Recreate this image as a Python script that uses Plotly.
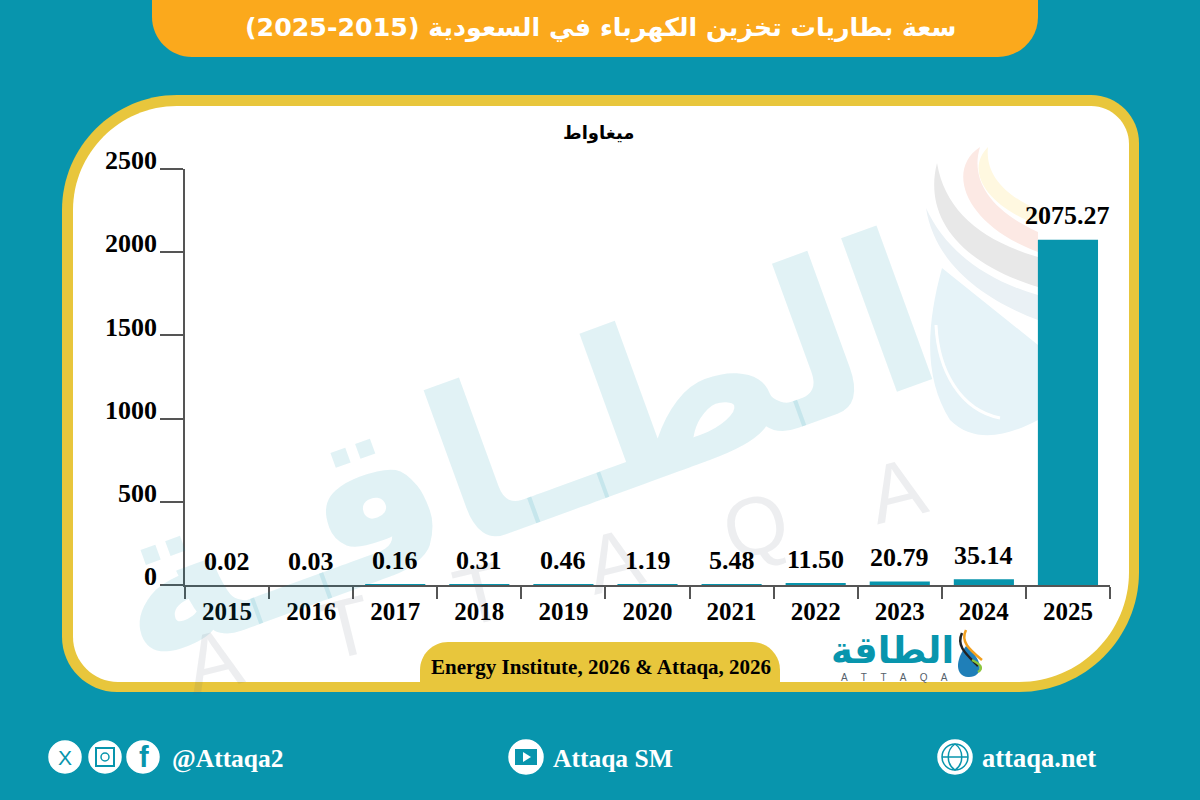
import plotly.graph_objects as go

# data
years = ["2015", "2016", "2017", "2018", "2019", "2020", "2021", "2022", "2023", "2024", "2025"]
capacity_mw = [0.02, 0.03, 0.16, 0.31, 0.46, 1.19, 5.48, 11.50, 20.79, 35.14, 2075.27]
y_ticks = [0, 500, 1000, 1500, 2000, 2500]

title_text = "سعة بطاريات تخزين الكهرباء في السعودية (2015-2025)"
unit_text = "ميغاواط"
source_text = "Energy Institute, 2026 & Attaqa, 2026"
logo_text = "الطاقة"
watermark_text = "الطـاقـة"

TEAL = "#0895AD"
YELLOW = "#E8C63C"
ORANGE = "#FBA91C"
AXIS = "#555555"
SERIF = "Liberation Serif"
ARABIC = "DejaVu Sans"
W, H = 1200, 800


def px(x):
    return x / W


def py(y):
    return 1 - y / H


def rounded(x0, y0, x1, y1, tl, tr, br, bl):
    """Path (in paper coords) of a box with its own radius on each corner."""
    k = 0.45
    pts = [
        f"M{px(x0 + tl)},{py(y0)}", f"L{px(x1 - tr)},{py(y0)}",
        f"C{px(x1 - tr * k)},{py(y0)} {px(x1)},{py(y0 + tr * k)} {px(x1)},{py(y0 + tr)}",
        f"L{px(x1)},{py(y1 - br)}",
        f"C{px(x1)},{py(y1 - br * k)} {px(x1 - br * k)},{py(y1)} {px(x1 - br)},{py(y1)}",
        f"L{px(x0 + bl)},{py(y1)}",
        f"C{px(x0 + bl * k)},{py(y1)} {px(x0)},{py(y1 - bl * k)} {px(x0)},{py(y1 - bl)}",
        f"L{px(x0)},{py(y0 + tl)}",
        f"C{px(x0)},{py(y0 + tl * k)} {px(x0 + tl * k)},{py(y0)} {px(x0 + tl)},{py(y0)}",
        "Z",
    ]
    return " ".join(pts)


def box(x0, y0, x1, y1, tl, tr, br, bl, color):
    return dict(type="path", path=rounded(x0, y0, x1, y1, tl, tr, br, bl), xref="paper", yref="paper",
                fillcolor=color, line_width=0, layer="below")


def circle(cx, cy, r, color="white", line=None):
    return dict(type="circle", xref="paper", yref="paper", x0=px(cx - r), x1=px(cx + r), y0=py(cy + r), y1=py(cy - r),
                fillcolor=color, line=dict(color=line or color, width=1.5), layer="above")


def curve(segs, color=None, line=None, width=0, layer="below"):
    """segs: ("M", x, y), ("L", x, y) or ("C", x1, y1, x2, y2, x, y) in pixels."""
    parts = []
    for seg in segs:
        nums = seg[1:]
        coords = " ".join(f"{px(nums[i])},{py(nums[i + 1])}" for i in range(0, len(nums), 2))
        parts.append(seg[0] + coords)
    return dict(type="path", xref="paper", yref="paper", path=" ".join(parts), layer=layer,
                fillcolor=color or "rgba(0,0,0,0)", line=dict(color=line or "rgba(0,0,0,0)", width=width))


def text(x, y, s, size, color="black", family=SERIF, bold=True, anchor="center", angle=0):
    return dict(xref="paper", yref="paper", x=px(x), y=py(y), text=f"<b>{s}</b>" if bold else s, showarrow=False,
                font=dict(family=family, size=size, color=color), xanchor=anchor, yanchor="middle", textangle=angle)


fig = go.Figure()
fig.add_trace(go.Bar(x=years, y=capacity_mw, marker_color=TEAL, width=0.715, hoverinfo="x+y"))

shapes = [
    box(62, 95, 1139, 692, 115, 48, 120, 55, YELLOW),
    box(73, 106, 1129, 682, 104, 38, 110, 45, "white"),
    box(152, -50, 1038, 57, 0, 0, 40, 40, ORANGE),
    box(420, 642, 780, 690, 28, 28, 0, 0, YELLOW),
]

annotations = [
    # watermark first so everything else sits on top of it
    text(518, 450, watermark_text, 215, "rgba(8,149,173,0.12)", ARABIC, True, "center", -20),
    text(555, 575, "A    T    T    A    Q    A", 82, "rgba(90,100,120,0.11)", "Liberation Sans", False, "center", -14),
    text(598, 133, unit_text, 18, "black", ARABIC),
    text(600, 28, title_text, 25.3, "white", ARABIC),
    text(601, 667, source_text, 21),
    text(892, 650, logo_text, 37, TEAL, ARABIC),
    text(894, 677, "A     T     T     A     Q     A", 10, "#55606a", "Liberation Sans", False),
    text(170, 758, "@Attaqa2", 25.5, "white", anchor="left"),
    text(551, 758, "Attaqa SM", 25.5, "white", anchor="left"),
    text(980, 758, "attaqa.net", 26.5, "white", anchor="left"),
    text(65, 757, "X", 21, TEAL, "Liberation Sans", False),
    text(144, 757, "f", 29, TEAL, "Liberation Sans"),
]

# value labels sit on the y axis scale, pushed up from the bar top
for pos, value in enumerate(capacity_mw):
    annotations.append(dict(x=pos, y=value, xref="x", yref="y", text=f"<b>{value:.2f}</b>", showarrow=False,
                            yanchor="middle", yshift=24, font=dict(family=SERIF, size=26, color="black")))

# watermark drop and streaks
shapes += [
    curve([("M", 942, 268), ("C", 925, 330, 925, 380, 950, 420), ("C", 975, 445, 1010, 435, 1038, 420),
           ("L", 1038, 345), ("L", 942, 268), ("Z",)], "#E6F3F8"),
    curve([("M", 937, 163), ("C", 925, 210, 950, 260, 1038, 287), ("L", 1038, 257), ("C", 980, 240, 945, 210, 937, 163), ("Z",)], "#E8E8E8"),
    curve([("M", 980, 147), ("C", 945, 170, 965, 225, 1038, 252), ("L", 1038, 232), ("C", 990, 210, 970, 180, 980, 147), ("Z",)], "#FCE9E4"),
    curve([("M", 988, 147), ("C", 965, 170, 985, 205, 1038, 225), ("L", 1038, 210), ("C", 1005, 195, 985, 175, 988, 147), ("Z",)], "#FFF8E0"),
    curve([("M", 926, 208), ("C", 935, 265, 985, 300, 1038, 320), ("L", 1038, 295), ("C", 985, 280, 945, 250, 926, 208), ("Z",)], "#EAF1F5"),
    curve([("M", 936, 325), ("C", 938, 370, 960, 410, 1000, 418)], None, "white", 3),
]

# small logo drop
shapes += [
    curve([("M", 966, 646), ("C", 955, 660, 955, 676, 968, 677), ("C", 982, 678, 986, 662, 966, 646), ("Z",)], "#1F7FB8", layer="above"),
    curve([("M", 966, 630), ("C", 960, 642, 970, 650, 982, 660)], None, "#F2A01E", 2.5, "above"),
    curve([("M", 962, 633), ("C", 956, 646, 966, 654, 978, 666)], None, "#222222", 2.5, "above"),
    curve([("M", 972, 660), ("C", 980, 664, 984, 668, 978, 672)], None, "#8CC63F", 2.5, "above"),
]

# social icons
shapes += [circle(65, 757, 16), circle(105, 757, 16), circle(143, 757, 16), circle(526, 757, 17), circle(955, 757, 17)]
shapes += [
    dict(type="rect", xref="paper", yref="paper", x0=px(96), x1=px(114), y0=py(766), y1=py(748), line=dict(color=TEAL, width=2), layer="above"),
    circle(105, 757, 4, "white", TEAL),
    dict(type="rect", xref="paper", yref="paper", x0=px(515), x1=px(537), y0=py(765), y1=py(749), fillcolor=TEAL, line_width=0, layer="above"),
    curve([("M", 523, 752), ("L", 531, 757), ("L", 523, 762), ("Z",)], "white", layer="above"),
    circle(955, 757, 13, "white", TEAL),
    curve([("M", 955, 744), ("C", 946, 750, 946, 764, 955, 770), ("C", 964, 764, 964, 750, 955, 744),
           ("M", 942, 757), ("L", 968, 757)], None, TEAL, 1.5, "above"),
]

fig.update_layout(
    template="none",
    width=W, height=H,
    margin=dict(l=0, r=0, t=0, b=0, autoexpand=False),
    paper_bgcolor=TEAL,
    plot_bgcolor="rgba(0,0,0,0)",
    showlegend=False,
    shapes=shapes,
    annotations=annotations,
    xaxis=dict(domain=[px(185), px(1110)], type="category", categoryorder="array", categoryarray=years, range=[-0.5, 10.5],
               tickson="boundaries", ticks="outside", ticklen=12, tickcolor=AXIS, tickwidth=1.5, tickangle=0,
               showline=True, linecolor=AXIS, linewidth=1.5, showgrid=False, zeroline=False, automargin=False, ticklabelstandoff=3,
               tickfont=dict(family=SERIF, size=25, color="black", weight="bold")),
    yaxis=dict(domain=[py(585), py(169)], range=[0, 2500], tickvals=y_ticks, ticks="outside", ticklen=23, tickcolor=AXIS, tickwidth=1.5,
               showline=True, linecolor=AXIS, linewidth=1.5, showgrid=False, zeroline=False, ticklabelshift=-9, ticklabelstandoff=-2, automargin=False,
               tickfont=dict(family=SERIF, size=26, color="black", weight="bold")),
)

fig.write_html("out.html", config={"displayModeBar": False},
               post_script="document.body.style.margin='0';document.body.style.overflow='hidden';")
